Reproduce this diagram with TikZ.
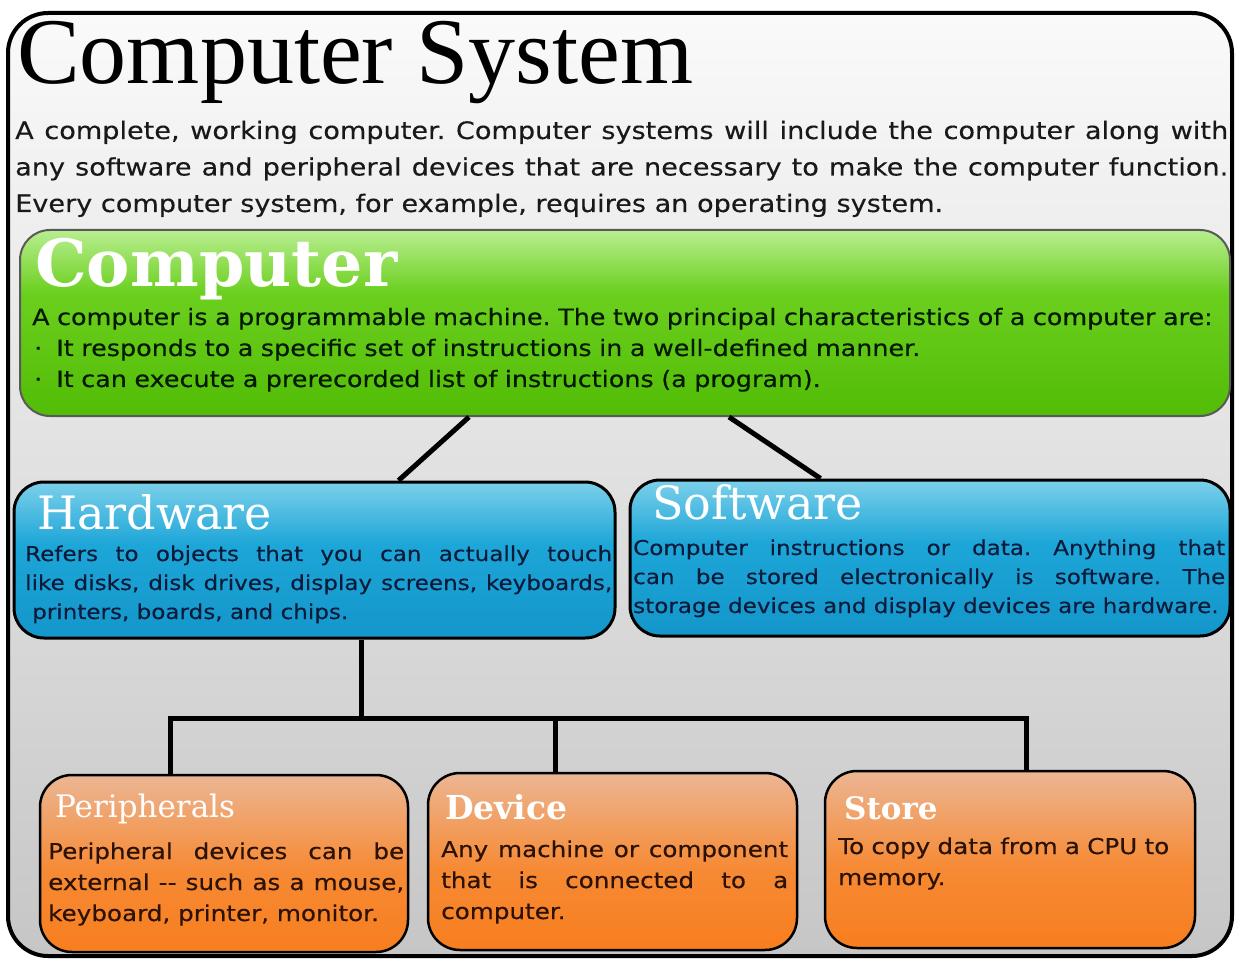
\documentclass[tikz,border=0pt]{standalone}
\usepackage{fontspec}
\usetikzlibrary{positioning}
\newfontfamily\bodyfont{DejaVu Sans}[FakeStretch=1.13,FakeBold=0.3]
\newfontfamily\headfont{DejaVu Serif}
\newfontfamily\titlefont{Liberation Serif}
\frenchspacing

\definecolor{frameT}{HTML}{FAFAFA}
\definecolor{frameB}{HTML}{C6C6C6}
\definecolor{grnT}{HTML}{B8EE90}
\definecolor{grnM}{HTML}{6BCF1E}
\definecolor{grnB}{HTML}{52BC06}
\definecolor{bluT}{HTML}{7CD0EA}
\definecolor{bluM}{HTML}{1DA6D8}
\definecolor{bluB}{HTML}{1496CA}
\definecolor{orgT}{HTML}{ECB694}
\definecolor{orgM}{HTML}{F68A35}
\definecolor{orgB}{HTML}{F87E1E}
\definecolor{navy}{HTML}{0D1B3A}
\definecolor{brown}{HTML}{2B1205}

\pgfdeclareverticalshading{greenfill}{100bp}{color(0bp)=(grnB); color(25bp)=(grnB); color(58bp)=(grnM); color(75bp)=(grnT); color(100bp)=(grnT)}
\pgfdeclareverticalshading{bluefill}{100bp}{color(0bp)=(bluB); color(25bp)=(bluB); color(55bp)=(bluM); color(75bp)=(bluT); color(100bp)=(bluT)}
\pgfdeclareverticalshading{orangefill}{100bp}{color(0bp)=(orgB); color(25bp)=(orgB); color(48bp)=(orgM); color(75bp)=(orgT); color(100bp)=(orgT)}

\tikzset{
  framebox/.style={draw=black, line width=4pt, rounded corners=40pt, top color=frameT, bottom color=frameB},
  compbox/.style={draw=black!65, line width=2pt, rounded corners=30pt, shade, shading=greenfill, inner sep=0pt},
  partbox/.style={draw=black, line width=3pt, rounded corners=30pt, shade, shading=bluefill, inner sep=0pt},
  kindbox/.style={draw=black, line width=2.5pt, rounded corners=32pt, shade, shading=orangefill, inner sep=0pt},
  head/.style={anchor=base west, inner sep=0pt, text=white},
  body/.style={anchor=base west, inner sep=0pt, align=justify},
  link/.style={line width=5pt, black},
}

\begin{document}
\begin{tikzpicture}[x=1pt,y=-1pt]
\useasboundingbox (0,0) rectangle (1235,960);
\path[framebox] (8,13) rectangle (1232,956);

\node[anchor=base west,inner sep=0pt,font=\titlefont\fontsize{94}{94}\selectfont] (title) at (17,84) {Computer System};
\node[body,text width=1213pt,text=black!90,font=\bodyfont\fontsize{24}{36.5}\selectfont] (intro) at (15,139)
  {A complete, working computer. Computer systems will include the computer along with\linebreak
   any software and peripheral devices that are necessary to make the computer function.\linebreak
   Every computer system, for example, requires an operating system.};

% computer
\node[compbox,minimum width=1210pt,minimum height=186pt] (comp) at (625,323) {};
\node[head,font=\headfont\bfseries\fontsize{65}{65}\selectfont] (comptitle) at (35,287) {Computer};
\node[body,align=left,text width=1195pt,text=black!90!green,font=\bodyfont\fontsize{22.5}{31}\selectfont] (comptext) at (32,325)
  {A computer is a programmable machine. The two principal characteristics of a computer are:\\
   \hspace*{2pt}·\hspace{14pt}It responds to a specific set of instructions in a well-defined manner.\\
   \hspace*{2pt}·\hspace{14pt}It can execute a prerecorded list of instructions (a program).};

% hardware / software
\node[partbox,minimum width=601pt,minimum height=156pt] (hw) at (314.5,560) {};
\node[head,font=\headfont\fontsize{46}{46}\selectfont] (hwtitle) at (37,529) {Hardware};
\node[body,text width=587pt,text=navy,font=\bodyfont\fontsize{20.4}{29}\selectfont] (hwtext) at (25,561)
  {Refers to objects that you can actually touch\linebreak
   like disks, disk drives, display screens, keyboards,\linebreak
   \hspace*{7pt}printers, boards, and chips.};

\node[partbox,minimum width=600pt,minimum height=156pt] (sw) at (930,558) {};
\node[head,font=\headfont\fontsize{46}{46}\selectfont] (swtitle) at (652,519) {Software};
\node[body,text width=592pt,text=navy,font=\bodyfont\fontsize{20.4}{29}\selectfont] (swtext) at (633,555)
  {Computer instructions or data. Anything that\linebreak
   can be stored electronically is software. The\linebreak
   storage devices and display devices are hardware.};

% kinds of hardware
\node[kindbox,minimum width=368pt,minimum height=177pt] (per) at (224,863.5) {};
\node[head,font=\headfont\fontsize{31}{31}\selectfont] (pertitle) at (55,817) {Peripherals};
\node[body,text width=356pt,text=brown,font=\bodyfont\fontsize{21.8}{31}\selectfont] (pertext) at (48,859)
  {Peripheral devices can be\linebreak
   external -{}- such as a mouse,\linebreak
   keyboard, printer, monitor.};

\node[kindbox,minimum width=369pt,minimum height=177pt] (dev) at (612.5,861.5) {};
\node[head,font=\headfont\bfseries\fontsize{33}{33}\selectfont] (devtitle) at (445,819) {Device};
\node[body,text width=347pt,text=brown,font=\bodyfont\fontsize{21.8}{31}\selectfont] (devtext) at (441,857)
  {Any machine or component\linebreak
   that is connected to a\linebreak
   computer.};

\node[kindbox,minimum width=370pt,minimum height=177pt] (sto) at (1010,859.5) {};
\node[head,font=\headfont\bfseries\fontsize{31}{31}\selectfont] (stotitle) at (844,819) {Store};
\node[body,align=left,text width=352pt,text=brown,font=\bodyfont\fontsize{21.8}{31}\selectfont] (stotext) at (838,854)
  {To copy data from a CPU to\\
   memory.};

% connectors
\draw[link] ([xshift=450pt]comp.south west) -- ([xshift=386pt]hw.north west);
\draw[link] ([xshift=710pt]comp.south west) -- ([xshift=192pt]sw.north west);
\draw[link] ([xshift=349pt]hw.south west) -- ++(0,79) coordinate (fork);
\draw[link] ([xshift=132pt]per.north west) |- (fork) -| ([xshift=203pt]sto.north west);
\draw[link] ([xshift=129pt]dev.north west) -- ([xshift=129pt]dev.north west |- fork);

\end{tikzpicture}
\end{document}
